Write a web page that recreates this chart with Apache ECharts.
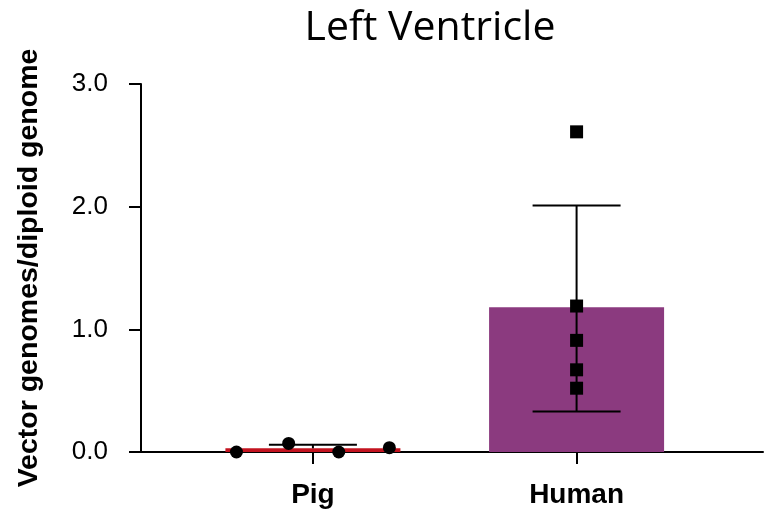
<!DOCTYPE html>
<html>
<head>
<meta charset="utf-8">
<script src="https://cdn.jsdelivr.net/npm/echarts@6/dist/echarts.min.js"></script>
<style>
html,body{margin:0;padding:0;background:#fff;}
#chart{width:764px;height:510px;}
</style>
</head>
<body>
<div id="chart"></div>
<script>
// ---- data ----
const categories = ['Pig', 'Human'];
const barMeans = [0.03, 1.18];
const barColors = ['#c3131f', '#8b3a7f'];
const errUpper = [0.06, 2.01];
const errLower = [null, 0.33];
const pigPoints = [0.0, 0.07, 0.0, 0.035];
const pigJitter = [-0.29, -0.092, 0.098, 0.29];
const humanPoints = [2.61, 1.19, 0.91, 0.67, 0.52];
const yTicks = [0, 1, 2, 3];

const chart = echarts.init(document.getElementById('chart'));

const barData = categories.map((c, i) => ({
  value: [i, barMeans[i]],
  itemStyle: { color: barColors[i] }
}));
const errData = categories.map((c, i) => [i, errLower[i], errUpper[i], barMeans[i]]);
const pigData = pigPoints.map((v, i) => [0 + pigJitter[i], v]);
const humanData = humanPoints.map(v => [1, v]);

const option = {
  animation: false,
  backgroundColor: '#ffffff',
  graphic: [{
    type: 'text',
    x: 430,
    y: 28,
    style: {
      text: 'Left Ventricle',
      font: '41px "Open Sans"',
      fill: '#000',
      textAlign: 'center',
      textVerticalAlign: 'middle'
    }
  }],
  grid: { left: 141, right: 1, top: 84, bottom: 58 },
  xAxis: {
    type: 'value',
    min: -0.652,
    max: 1.707,
    splitLine: { show: false },
    axisLine: { show: true, onZero: false, lineStyle: { color: '#000', width: 2 } },
    axisTick: { show: true, customValues: [0, 1], length: 12, lineStyle: { color: '#000', width: 2 } },
    axisLabel: {
      customValues: [0, 1],
      formatter: v => categories[Math.round(v)] || '',
      margin: 29,
      color: '#000',
      fontFamily: '"Liberation Sans", Arial, sans-serif',
      fontWeight: 'bold',
      fontSize: 28
    }
  },
  yAxis: {
    type: 'value',
    min: 0,
    max: 3,
    interval: 1,
    splitLine: { show: false },
    name: 'Vector genomes/diploid genome',
    nameLocation: 'middle',
    nameGap: 97,
    nameTextStyle: {
      color: '#000',
      fontFamily: '"Liberation Sans", Arial, sans-serif',
      fontWeight: 'bold',
      fontSize: 28.5
    },
    axisLine: { show: true, onZero: false, lineStyle: { color: '#000', width: 2 } },
    axisTick: { show: true, length: 12, lineStyle: { color: '#000', width: 2 } },
    axisLabel: {
      formatter: v => v.toFixed(1),
      margin: 33,
      color: '#000',
      fontFamily: '"Liberation Sans", Arial, sans-serif',
      fontSize: 26
    }
  },
  series: [
    {
      type: 'bar',
      data: barData,
      barWidth: 175,
      z: 1
    },
    {
      type: 'custom',
      z: 3,
      data: errData,
      renderItem: function (params, api) {
        const x = api.value(0);
        const lo = api.value(1);
        const hi = api.value(2);
        const mean = api.value(3);
        const half = 44;
        const children = [];
        const pm = api.coord([x, mean]);
        const ph = api.coord([x, hi]);
        const st = { stroke: '#000', lineWidth: 2 };
        children.push({ type: 'line', shape: { x1: ph[0], y1: ph[1], x2: pm[0], y2: pm[1] }, style: st });
        children.push({ type: 'line', shape: { x1: ph[0] - half, y1: ph[1], x2: ph[0] + half, y2: ph[1] }, style: st });
        if (lo !== null && !isNaN(lo)) {
          const pl = api.coord([x, lo]);
          children.push({ type: 'line', shape: { x1: pl[0], y1: pl[1], x2: pm[0], y2: pm[1] }, style: st });
          children.push({ type: 'line', shape: { x1: pl[0] - half, y1: pl[1], x2: pl[0] + half, y2: pl[1] }, style: st });
        }
        return { type: 'group', children: children };
      }
    },
    {
      type: 'scatter',
      z: 4,
      data: pigData,
      symbol: 'circle',
      symbolSize: 13,
      itemStyle: { color: '#000', opacity: 1 }
    },
    {
      type: 'scatter',
      z: 4,
      data: humanData,
      symbol: 'rect',
      symbolSize: 13,
      itemStyle: { color: '#000', opacity: 1 }
    }
  ]
};
chart.setOption(option);
</script>
</body>
</html>
